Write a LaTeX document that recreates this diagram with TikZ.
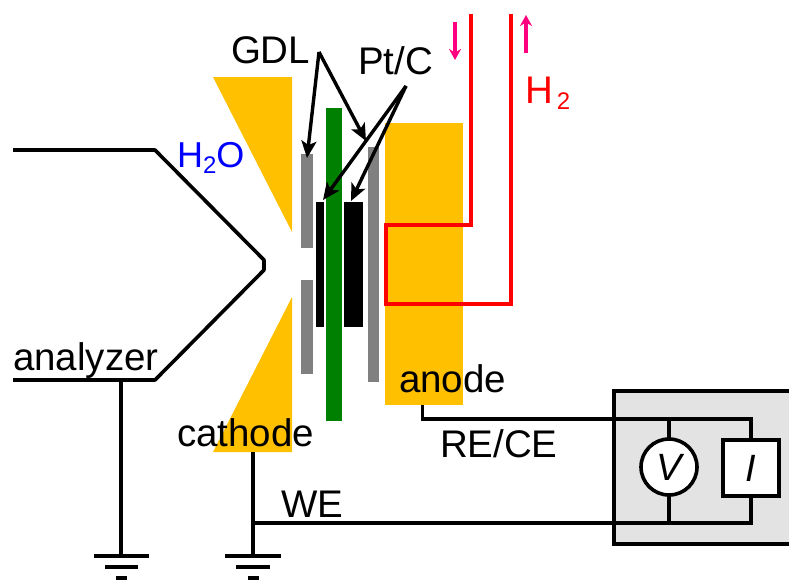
\documentclass[tikz,border=0pt]{standalone}
\usepackage{fontspec}
\setmainfont{Liberation Sans}
\usetikzlibrary{arrows.meta}
\definecolor{gold}{HTML}{FFC000}
\definecolor{leaf}{HTML}{008000}
\definecolor{pinkish}{HTML}{FF0080}
\definecolor{panel}{HTML}{E3E3E3}
\newcommand{\lab}{\fontsize{38.5}{40}\selectfont}
\newcommand{\sbs}[1]{\raisebox{-6pt}{\fontsize{24}{26}\selectfont #1}}
\tikzset{
  x=1pt,y=-1pt,
  wire/.style={draw=black,line width=3.6pt},
  red wire/.style={draw=red,line width=3.6pt},
  pointer/.style={draw=black,line width=3.4pt,-{Stealth[length=17pt,width=15pt,inset=4pt]}},
  flow/.style={draw=pinkish,line width=3.6pt,-{Stealth[length=11pt,width=12pt]}},
  block/.style={inner sep=0pt,outer sep=0pt,draw=none,anchor=north west},
  txt/.style={inner sep=0pt,outer sep=0pt,anchor=base west,font=\lab},
}
\begin{document}
\begin{tikzpicture}
\useasboundingbox (0,0) rectangle (789,579);
% panel
\fill[panel] (614,391) rectangle (789,544);
% electrodes
\fill[gold] (213,77) -- (292,77) -- (292,232) -- cycle;
\fill[gold] (213,452) -- (292,452) -- (292,297) -- cycle;
\coordinate (cathbot) at (253,452);
\node[block,fill=gold,minimum width=78pt,minimum height=282pt] (anode) at (385,123) {};
\node[block,fill=leaf,minimum width=16pt,minimum height=313pt] (membrane) at (326,108) {};
\node[block,fill=gray,minimum width=12pt,minimum height=94pt] (gdlA) at (301,154) {};
\node[block,fill=gray,minimum width=12pt,minimum height=94pt] (gdlB) at (301,280) {};
\node[block,fill=gray,minimum width=11pt,minimum height=235pt] (gdlC) at (368,147) {};
\node[block,fill=black,minimum width=8pt,minimum height=125pt] (ptA) at (316,202) {};
\node[block,fill=black,minimum width=19pt,minimum height=125pt] (ptB) at (344,202) {};
% H2 tube
\draw[red wire,line join=miter] (471,14) -- (471,225) -- (386,225) -- (386,304) -- (511,304) -- (511,14);
\draw[flow] (455,22) -- (455,60);
\draw[flow] (526,53) -- (526,15);
% analyzer
\draw[wire,line join=round] (13,150) -- (155,150) -- (264,260) -- (264,270) -- (155,380) -- (13,380);
% grounds
\coordinate (anaStem) at (121,380);
\coordinate (gndA) at (121,556);
\coordinate (gndB) at (253,556);
\draw[wire] (anaStem) -- (gndA);
\draw[wire] (94,556) -- (149,556) (105,567) -- (138,567) (116,578) -- (127,578);
\draw[wire] (cathbot) -- (gndB);
\draw[wire] (225,556) -- (281,556) (236,567) -- (270,567) (248,578) -- (259,578);
% panel outline
\draw[wire,line join=miter] (789,391) -- (614,391) -- (614,544) -- (789,544);
% instruments
\coordinate (topA) at (669,419);
\coordinate (topB) at (751,419);
\coordinate (botA) at (669,523);
\coordinate (botB) at (751,523);
\coordinate (anTap) at (422.5,405);
\coordinate (anCorner) at (422.5,419);
\coordinate (weTap) at (253,523);
\draw[wire,line join=miter] (anTap) -- (anCorner) -- (topB) -- (botB) -- (weTap);
\draw[wire] (topA) -- (botA);
\node[draw=black,fill=white,line width=3.6pt,circle,inner sep=0pt,minimum size=56pt,font=\fontsize{38}{40}\selectfont\itshape] (V) at (669,467) {V};
\node[draw=black,fill=white,line width=3.6pt,inner sep=0pt,minimum width=56pt,minimum height=56pt,font=\fontsize{38}{40}\selectfont\itshape] (I) at (751,468) {I};
% labels
\node[txt] (lGDL) at (231,63) {GDL};
\node[txt] (lPt) at (358,74) {Pt/C};
\node[txt,text=blue,font=\fontsize{36}{38}\selectfont] (lH2O) at (177,167) {H\sbs{2}O};
\node[txt,text=red] (lH2) at (525,103) {H\hspace{4pt}\sbs{2}};
\node[txt] (lAn) at (13,370) {analyzer};
\node[txt] (lCa) at (177,446) {cathode};
\node[txt] (lAno) at (399,392) {anode};
\node[txt] (lRE) at (440,457) {RE/CE};
\node[txt] (lWE) at (281,517) {WE};
% pointers
\coordinate (gdlFrom) at (319,52);
\coordinate (ptFrom) at (406,86);
\coordinate (tA) at (307,158);
\coordinate (tB) at (366,141);
\coordinate (tC) at (323,200);
\coordinate (tD) at (351,201);
\draw[pointer] (gdlFrom) -- (tA);
\draw[pointer] (gdlFrom) -- (tB);
\draw[pointer] (ptFrom) -- (tC);
\draw[pointer] (ptFrom) -- (tD);
\end{tikzpicture}
\end{document}
